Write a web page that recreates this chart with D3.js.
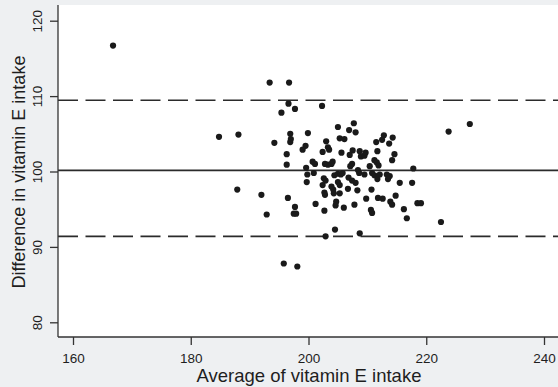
<!DOCTYPE html>
<html><head><meta charset="utf-8">
<script src="https://cdn.jsdelivr.net/npm/d3@7"></script>
<style>html,body{margin:0;padding:0;background:#eef0f2;}svg{display:block;}</style>
</head><body><svg id="c" width="558" height="387"></svg>
<script>
// Average of the two measurements (x) and their difference (y)
const avgValues = [166.8,193.4,196.7,196.6,195.4,197.7,202.3,184.8,188.1,194.2,196.9,197.0,196.9,199.9,199.5,199.0,196.3,196.3,199.6,199.8,199.7,187.9,192.0,196.5,197.7,192.9,197.5,197.9,195.8,198.1,205.0,207.7,206.9,208.0,205.3,206.1,203.0,203.3,203.5,202.4,205.6,207.5,207.0,208.7,208.9,209.5,209.7,211.5,212.5,212.8,214.3,213.7,211.7,214.6,214.2,211.2,211.6,211.9,210.4,207.4,207.1,204.1,203.9,203.3,202.8,200.7,201.1,208.4,217.8,200.9,202.6,202.9,202.4,204.4,205.0,205.5,205.8,203.9,204.2,205.0,205.3,206.8,207.4,208.0,208.6,209.5,210.8,211.2,211.7,212.1,213.3,213.8,213.5,215.5,217.6,202.7,202.8,204.3,205.3,206.7,208.3,210.7,201.2,204.7,204.6,206.0,207.8,209.8,211.8,212.6,213.9,214.2,214.8,210.6,210.8,202.7,216.2,216.7,218.5,219.1,204.5,202.9,208.7,222.5,223.8,227.4];
const diffValues = [116.7,111.8,111.8,109.0,107.8,108.3,108.7,104.6,104.9,103.8,105.0,104.3,103.9,105.1,103.4,102.9,102.3,100.9,100.5,99.6,98.6,97.6,96.9,96.5,95.3,94.3,94.4,94.4,87.8,87.4,105.9,106.4,105.5,105.2,104.4,104.3,104.0,103.2,102.9,102.6,102.5,102.8,102.2,102.7,102.0,102.1,102.5,103.9,104.2,104.8,104.5,103.7,102.7,102.3,101.5,101.5,101.2,100.8,100.7,101.0,100.7,101.3,101.0,100.9,101.0,101.3,101.0,100.2,100.4,99.8,99.1,98.8,98.2,99.5,99.7,99.6,99.8,98.0,97.6,98.6,98.2,99.2,98.8,98.5,99.8,99.6,99.8,99.5,99.0,99.6,99.6,99.4,99.0,98.5,98.5,97.2,96.9,97.1,97.1,97.7,97.5,97.6,95.7,96.0,95.5,95.2,95.6,96.4,96.5,96.4,96.0,95.6,96.8,94.9,94.5,94.8,95.0,93.8,95.8,95.8,92.3,91.4,91.8,93.3,105.3,106.3];
const meanDiff = 100.15;
const limits = [109.45, 91.4];
const xTicks = [160, 180, 200, 220, 240];
const yTicks = [80, 90, 100, 110, 120];
const xTitle = "Average of vitamin E intake";
const yTitle = "Difference in vitamin E intake";

const svg = d3.select("#c");
const W = 558, H = 387;
const plot = {left: 58, top: 5, right: 558, bottom: 337};
const x = d3.scaleLinear().domain([160, 240]).range([73, 544]);
const y = d3.scaleLinear().domain([80, 120]).range([322.3, 20.7]);

svg.append("rect").attr("width", W).attr("height", H).attr("fill", "#eef0f2");
svg.append("rect").attr("x", plot.left).attr("y", plot.top)
  .attr("width", plot.right - plot.left).attr("height", plot.bottom - plot.top)
  .attr("fill", "#ffffff");

// reference lines
svg.append("line").attr("x1", plot.left).attr("x2", plot.right)
  .attr("y1", y(meanDiff)).attr("y2", y(meanDiff))
  .attr("stroke", "#2b2b2b").attr("stroke-width", 1.6);
svg.selectAll("line.lim").data(limits).join("line").attr("class", "lim")
  .attr("x1", plot.left).attr("x2", plot.right)
  .attr("y1", d => y(d)).attr("y2", d => y(d))
  .attr("stroke", "#2b2b2b").attr("stroke-width", 1.6)
  .attr("stroke-dasharray", "20,7.5");

// points
const pts = avgValues.map((a, i) => ({a, d: diffValues[i]}));
svg.selectAll("circle.pt").data(pts).join("circle").attr("class", "pt")
  .attr("cx", p => x(p.a)).attr("cy", p => y(p.d)).attr("r", 3.1)
  .attr("fill", "#1a1a1a");

// axes
const font = "'Liberation Sans', Arial, Helvetica, sans-serif";
const xAxis = svg.append("g").attr("transform", `translate(0,${plot.bottom})`)
  .call(d3.axisBottom(x).tickValues(xTicks).tickSize(8).tickFormat(d3.format("d")));
xAxis.select(".domain").remove();
xAxis.selectAll(".tick line").attr("stroke", "#333").attr("stroke-width", 1.3);
xAxis.selectAll(".tick text").attr("font-family", font).attr("font-size", 13.5).attr("fill", "#1e1e1e")
  .attr("y", 25.5).attr("dy", 0);

const yAxis = svg.append("g").attr("transform", `translate(${plot.left},0)`)
  .call(d3.axisLeft(y).tickValues(yTicks).tickSize(8).tickFormat(d3.format("d")));
yAxis.select(".domain").remove();
yAxis.selectAll(".tick line").attr("stroke", "#333").attr("stroke-width", 1.3);
yAxis.selectAll(".tick text")
  .attr("font-family", font).attr("font-size", 13.5).attr("fill", "#1e1e1e")
  .attr("transform", "translate(-16,0) rotate(-90)")
  .attr("x", 0).attr("dy", 0).attr("text-anchor", "middle");

svg.append("line").attr("x1", plot.left).attr("x2", plot.left)
  .attr("y1", plot.top).attr("y2", plot.bottom).attr("stroke", "#333").attr("stroke-width", 1.3);
svg.append("line").attr("x1", plot.left).attr("x2", plot.right)
  .attr("y1", plot.bottom).attr("y2", plot.bottom).attr("stroke", "#333").attr("stroke-width", 1.3);

svg.append("text").attr("x", 309).attr("y", 382).attr("text-anchor", "middle")
  .attr("font-family", font).attr("font-size", 18.5).attr("fill", "#1e1e1e").text(xTitle);
svg.append("text").attr("transform", `translate(24.5,172) rotate(-90)`)
  .attr("text-anchor", "middle")
  .attr("font-family", font).attr("font-size", 18).attr("fill", "#1e1e1e").text(yTitle);
</script></body></html>
